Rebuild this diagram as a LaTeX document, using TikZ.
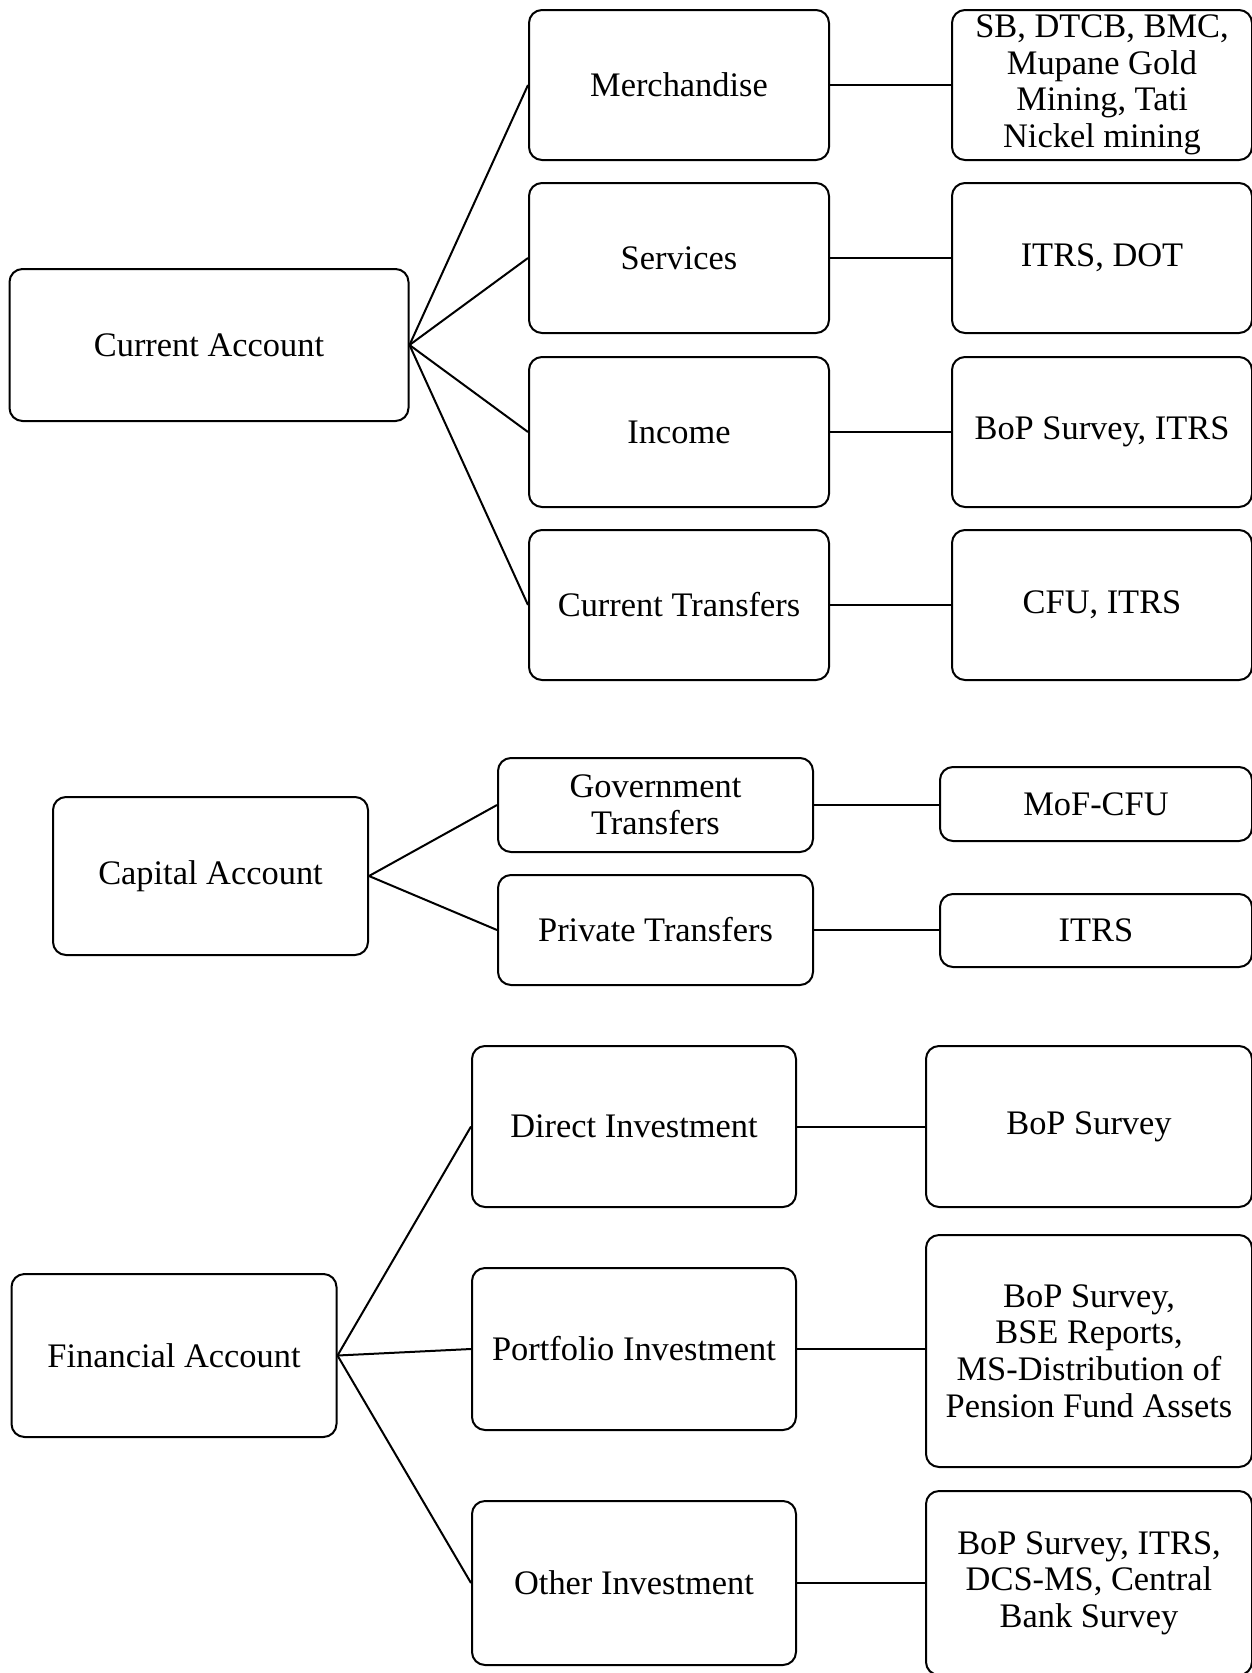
\documentclass[tikz,border=0pt]{standalone}
\usepackage{fontspec}
\setmainfont{Liberation Serif}
\usetikzlibrary{positioning}

\begin{document}
\begin{tikzpicture}[x=1pt,y=-1pt,
  font=\fontsize{34.4}{36.6}\selectfont,
  box/.style={draw=black,line width=2pt,rounded corners=13pt,align=center,
              inner sep=0pt,fill=white},
  conn/.style={draw=black,line width=2pt}]
\useasboundingbox (0,0) rectangle (1252,1673);

% ---- current account ----
\node[box,minimum width=399,minimum height=152] (cur) at (209,345) {Current Account};
\node[box,minimum width=300,minimum height=150] (mer) at (679,85)  {Merchandise};
\node[box,minimum width=300,minimum height=150] (ser) at (679,258) {Services};
\node[box,minimum width=300,minimum height=150] (inc) at (679,432) {Income};
\node[box,minimum width=300,minimum height=150] (ctr) at (679,605) {Current Transfers};
\node[box,minimum width=300,minimum height=150] (mers) at (1102,85)
  {SB, DTCB, BMC,\\Mupane Gold\\Mining, Tati\\Nickel mining};
\node[box,minimum width=300,minimum height=150] (sers) at (1102,258) {ITRS, DOT};
\node[box,minimum width=300,minimum height=150] (incs) at (1102,432) {BoP Survey, ITRS};
\node[box,minimum width=300,minimum height=150] (ctrs) at (1102,605) {CFU, ITRS};

% ---- capital account ----
\node[box,minimum width=315,minimum height=158] (cap) at (210.5,876) {Capital Account};
\node[box,minimum width=315,minimum height=94]  (gov) at (655.5,805) {Government\\Transfers};
\node[box,minimum width=315,minimum height=110] (pri) at (655.5,930) {Private Transfers};
\node[box,minimum width=312,minimum height=74]  (govs) at (1096,804) {MoF-CFU};
\node[box,minimum width=312,minimum height=73]  (pris) at (1096,930.5) {ITRS};

% ---- financial account ----
\node[box,minimum width=325,minimum height=163] (fin) at (174,1355.5) {Financial Account};
\node[box,minimum width=324,minimum height=161] (dir) at (634,1126.5) {Direct Investment};
\node[box,minimum width=324,minimum height=162] (por) at (634,1349) {Portfolio Investment};
\node[box,minimum width=324,minimum height=164] (oth) at (634,1583) {Other Investment};
\node[box,minimum width=326,minimum height=161] (dirs) at (1089,1126.5) {BoP Survey};
\node[box,minimum width=326,minimum height=232] (pors) at (1089,1351)
  {BoP Survey,\\BSE Reports,\\MS-Distribution of\\Pension Fund Assets};
\node[box,minimum width=326,minimum height=184] (oths) at (1089,1583)
  {BoP Survey, ITRS,\\DCS-MS, Central\\Bank Survey};

% ---- connections ----
\foreach \c in {mer,ser,inc,ctr} \draw[conn] (cur.east) -- (\c.west);
\foreach \c in {gov,pri} \draw[conn] (cap.east) -- (\c.west);
\foreach \c in {dir,por,oth} \draw[conn] (fin.east) -- (\c.west);
\foreach \c in {mer,ser,inc,ctr,gov,pri,dir,por,oth}
  \draw[conn] (\c.east) -- (\c.east -| \c s.west);
\end{tikzpicture}
\end{document}
